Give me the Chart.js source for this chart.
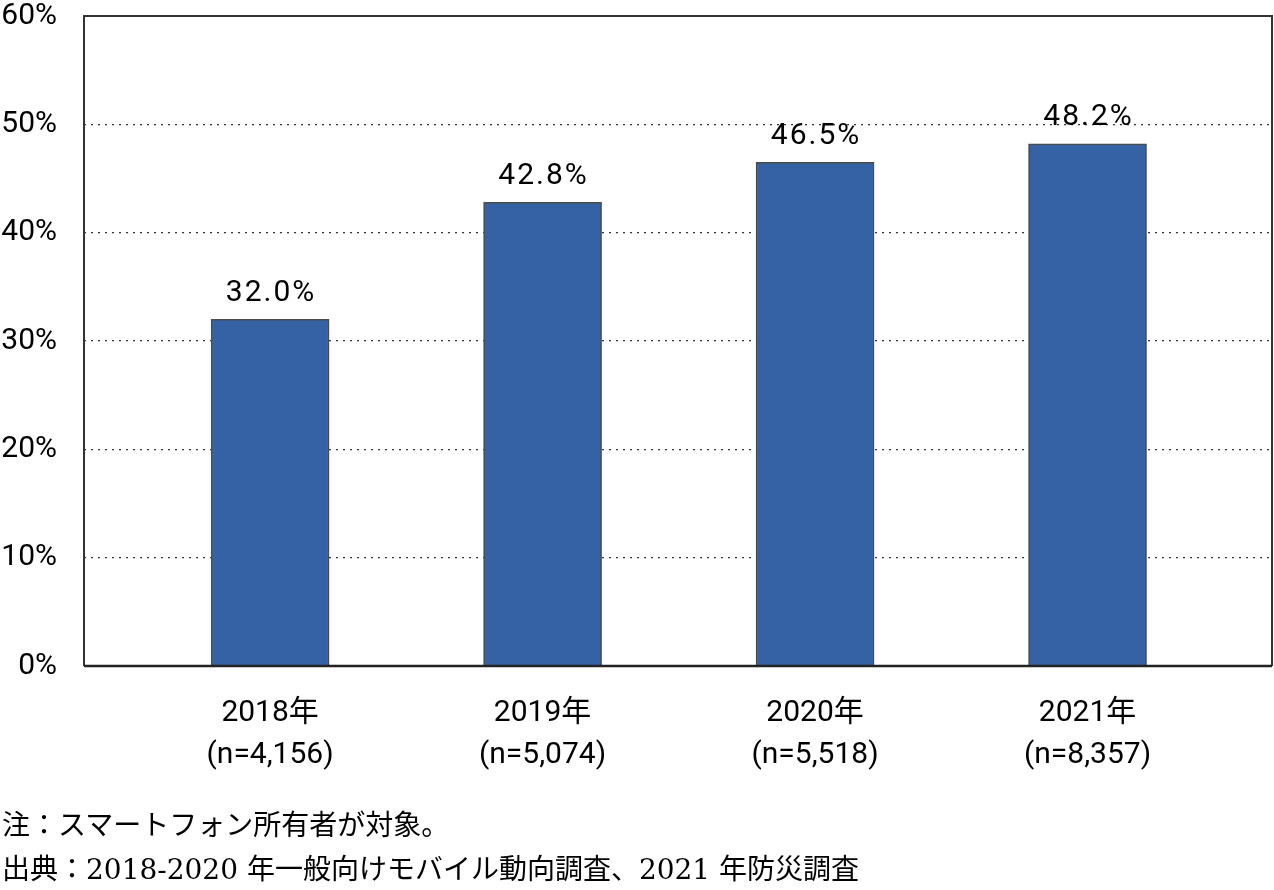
<!DOCTYPE html>
<html>
<head>
<meta charset="utf-8">
<script src="https://cdn.jsdelivr.net/npm/chart.js@4"></script>
<style>
    body { margin: 0; background: #fff; }
    #wrap { position: relative; width: 1274px; height: 890px; }
    .note {
        position: absolute;
        left: 2px;
        font-family: "DejaVu Serif", "Noto Sans CJK JP", serif;
        font-size: 28px;
        line-height: 28px;
        color: #000;
        white-space: nowrap;
    }
</style>
</head>
<body>
<div id="wrap">
    <canvas id="chart"></canvas>
    <div class="note" style="top: 812px;">注：スマートフォン所有者が対象。</div>
    <div class="note" style="top: 856px;">出典：2018-2020 年一般向けモバイル動向調査、2021 年防災調査</div>
</div>
<script>
const years = ['2018年', '2019年', '2020年', '2021年'];
const sampleSizes = ['(n=4,156)', '(n=5,074)', '(n=5,518)', '(n=8,357)'];
const shares = [32.0, 42.8, 46.5, 48.2];
const yTicks = [0, 10, 20, 30, 40, 50, 60];

const numFont = 'Roboto, "Noto Sans CJK JP", sans-serif';

// bar value labels above each bar
const valueLabels = {
    id: 'valueLabels',
    afterDatasetsDraw(chart) {
        const ctx = chart.ctx;
        const meta = chart.getDatasetMeta(0);
        ctx.save();
        ctx.font = '30px ' + numFont;
        ctx.fillStyle = '#000';
        ctx.textAlign = 'center';
        ctx.textBaseline = 'bottom';
        ctx.letterSpacing = '2px';
        meta.data.forEach((bar, i) => {
            ctx.fillText(shares[i].toFixed(1) + '%', bar.x + 1, bar.y - 11);
        });
        ctx.restore();
    }
};

// plot frame: solid top/left/right, heavier bottom axis
const frame = {
    id: 'frame',
    afterDatasetsDraw(chart) {
        const { left, right, top, bottom } = chart.chartArea;
        const ctx = chart.ctx;
        ctx.save();
        ctx.strokeStyle = '#333';
        ctx.lineWidth = 2;
        ctx.beginPath();
        ctx.moveTo(left, bottom);
        ctx.lineTo(left, top);
        ctx.lineTo(right, top);
        ctx.lineTo(right, bottom);
        ctx.stroke();
        ctx.strokeStyle = '#222';
        ctx.lineWidth = 2.5;
        ctx.beginPath();
        ctx.moveTo(left, bottom);
        ctx.lineTo(right, bottom);
        ctx.stroke();
        ctx.restore();
    }
};

new Chart(document.getElementById('chart'), {
    type: 'bar',
    data: {
        datasets: [{
            data: shares.map((v, i) => ({ x: i, y: v })),
            backgroundColor: '#3562a4',
            borderColor: '#4a4a4a',
            borderWidth: 1.5,
            borderSkipped: 'bottom',
            barThickness: 118,
        }]
    },
    options: {
        responsive: true,
        maintainAspectRatio: false,
        animation: false,
        layout: { padding: { top: 16, right: 2, left: 0, bottom: 0 } },
        plugins: {
            legend: { display: false },
            tooltip: { enabled: false }
        },
        scales: {
            x: {
                type: 'linear',
                offset: false,
                min: -0.683,
                max: 3.677,
                afterBuildTicks: (scale) => {
                    scale.ticks = years.map((_, i) => ({ value: i }));
                },
                afterFit: (scale) => {
                    scale.height = 224;
                    scale.paddingLeft = 0;
                    scale.paddingRight = 0;
                },
                grid: { display: false, drawTicks: false },
                border: { display: false },
                ticks: {
                    padding: 26,
                    color: '#000',
                    autoSkip: false,
                    maxRotation: 0,
                    font: { family: numFont, size: 30, lineHeight: 1.4 },
                    callback: (v) => [years[v], sampleSizes[v]]
                }
            },
            y: {
                min: 0,
                max: 60,
                afterBuildTicks: (scale) => {
                    scale.ticks = yTicks.map(v => ({ value: v }));
                },
                afterFit: (scale) => {
                    scale.width = 84;
                    scale.paddingTop = 0;
                    scale.paddingBottom = 0;
                },
                grid: {
                    drawTicks: false,
                    color: (c) => (c.tick && (c.tick.value === 0 || c.tick.value === 60)) ? 'rgba(0,0,0,0)' : '#333',
                    lineWidth: 1.2
                },
                border: { display: false, dash: [2, 5] },
                ticks: {
                    padding: 27,
                    color: '#000',
                    font: { family: numFont, size: 30 },
                    callback: (v) => v + '%'
                }
            }
        }
    },
    plugins: [frame, valueLabels]
});
</script>
</body>
</html>
